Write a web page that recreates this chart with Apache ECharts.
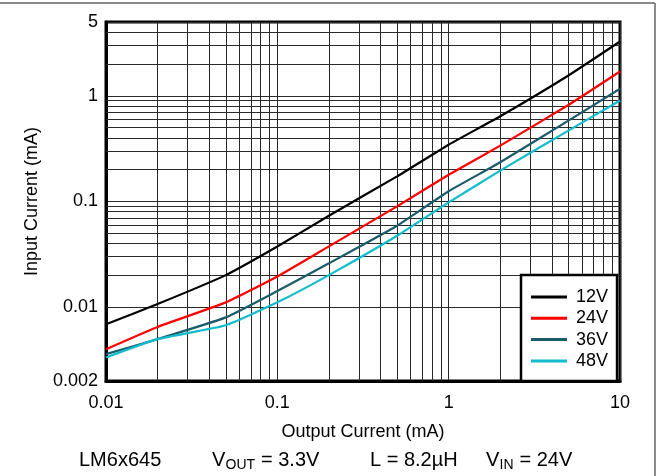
<!DOCTYPE html>
<html>
<head>
<meta charset="utf-8">
<script src="https://cdn.jsdelivr.net/npm/echarts@6/dist/echarts.min.js"></script>
<style>
html,body{margin:0;padding:0;background:#fff;}
#c{width:661px;height:476px;}
</style>
</head>
<body>
<div id="c"></div>
<script>
// ---- data ----
var outputCurrent = [0.01, 0.02, 0.05, 0.1, 0.2, 0.5, 1, 2, 5, 10];
var seriesNames = ['12V', '24V', '36V', '48V'];
var in12V = [0.0069, 0.0107, 0.0201, 0.0375, 0.0734, 0.173, 0.345, 0.641, 1.56, 3.27];
var in24V = [0.0040, 0.0065, 0.0111, 0.0195, 0.0376, 0.090, 0.179, 0.338, 0.82, 1.70];
var in36V = [0.00359, 0.00498, 0.0080, 0.0142, 0.026, 0.059, 0.125, 0.235, 0.583, 1.166];
var in48V = [0.00334, 0.00498, 0.00675, 0.0111, 0.0201, 0.0474, 0.098, 0.196, 0.469, 0.903];
var xMin = 0.01, xMax = 10;
var yMin = 0.002, yMax = 5;
var xTitle = 'Output Current (mA)';
var yTitle = 'Input Current (mA)';

// ---- build ----
var colors = ['#000000', '#ff0000', '#1b5b6b', '#12bccc'];
var allY = [in12V, in24V, in36V, in48V];

function pairs(xs, ys) {
  return xs.map(function (x, i) { return [x, ys[i]]; });
}
function minorValues(lo, hi) {
  var out = [];
  var d = Math.floor(Math.log10(lo));
  for (; Math.pow(10, d) <= hi; d++) {
    for (var k = 2; k <= 9; k++) {
      var v = +(k * Math.pow(10, d)).toPrecision(6);
      if (v > lo && v < hi) out.push(v);
    }
  }
  return out;
}
var gridColor = '#2a2a2a';
var minorX = minorValues(xMin, xMax).map(function (v) { return { xAxis: v }; });
var minorY = minorValues(yMin, yMax).map(function (v) { return { yAxis: v }; });

var series = allY.map(function (ys, i) {
  return {
    name: seriesNames[i],
    type: 'line',
    data: pairs(outputCurrent, ys),
    showSymbol: false,
    symbol: 'none',
    smooth: 0.15,
    lineStyle: { color: colors[i], width: 2.2 },
    itemStyle: { color: colors[i] },
    z: 5,
    animation: false
  };
});
series.unshift({
  name: 'grid',
  type: 'line',
  data: [],
  silent: true,
  z: 1,
  animation: false,
  markLine: {
    silent: true,
    symbol: ['none', 'none'],
    label: { show: false },
    lineStyle: { color: gridColor, width: 1, type: 'solid' },
    emphasis: { disabled: true },
    animation: false,
    data: minorX.concat(minorY)
  }
});

var fmt = function (v) { return String(+(+v).toPrecision(6)); };
var labelFont = { fontFamily: 'Liberation Sans, Arial, sans-serif', fontSize: 18, color: '#000' };
var bigFont = '20px "Liberation Sans", Arial, sans-serif';
var subFont = '14px "Liberation Sans", Arial, sans-serif';
function txt(x, y, s, f) {
  return { type: 'text', left: x, top: y, silent: true, style: { text: s, font: f, fill: '#000' } };
}
var ty = 450, sy = 458;

var chart = echarts.init(document.getElementById('c'), null, { renderer: 'canvas' });
chart.setOption({
  backgroundColor: '#fff',
  animation: false,
  grid: {
    left: 106, top: 22, width: 514, height: 359,
    show: true, borderColor: '#000', borderWidth: 3, backgroundColor: 'transparent'
  },
  legend: {
    data: seriesNames,
    orient: 'vertical',
    left: 521, top: 275,
    itemWidth: 36, itemHeight: 3, icon: 'rect',
    itemGap: 3.3,
    padding: [13, 9, 11, 10],
    borderColor: '#000', borderWidth: 2.5,
    backgroundColor: '#fff',
    textStyle: { fontFamily: 'Liberation Sans, Arial, sans-serif', fontSize: 18, color: '#000', lineHeight: 18, padding: [0, 0, 0, 4] },
    z: 10
  },
  xAxis: {
    type: 'log', logBase: 10, min: xMin, max: xMax,
    name: xTitle, nameLocation: 'middle', nameGap: 42,
    nameTextStyle: labelFont,
    axisLine: { show: true, lineStyle: { color: '#000', width: 3 } },
    axisTick: { show: false },
    axisLabel: Object.assign({ margin: 13, formatter: fmt }, labelFont),
    splitLine: { show: true, lineStyle: { color: gridColor, width: 1 } }
  },
  yAxis: {
    type: 'log', logBase: 10, min: yMin, max: yMax,
    name: yTitle, nameLocation: 'middle', nameGap: 65,
    nameTextStyle: labelFont,
    axisLine: { show: true, lineStyle: { color: '#000', width: 3 } },
    axisTick: { show: false },
    axisLabel: Object.assign({ margin: 8, formatter: fmt, showMinLabel: true, showMaxLabel: true }, labelFont),
    splitLine: { show: true, lineStyle: { color: gridColor, width: 1 } }
  },
  series: series,
  graphic: [
    { type: 'line', shape: { x1: 0, y1: 3, x2: 655, y2: 3 }, style: { stroke: '#8a8a8a', lineWidth: 2 }, silent: true },
    { type: 'line', shape: { x1: 655, y1: 3, x2: 655, y2: 476 }, style: { stroke: '#8a8a8a', lineWidth: 2 }, silent: true },
    txt(79, ty, 'LM6x645', bigFont),
    txt(212, ty, 'V', bigFont),
    txt(225.5, sy, 'OUT', subFont),
    txt(261, ty, '= 3.3V', bigFont),
    txt(370, ty, 'L = 8.2µH', bigFont),
    txt(486, ty, 'V', bigFont),
    txt(499.5, sy, 'IN', subFont),
    txt(519.5, ty, '= 24V', bigFont)
  ]
});
</script>
</body>
</html>
